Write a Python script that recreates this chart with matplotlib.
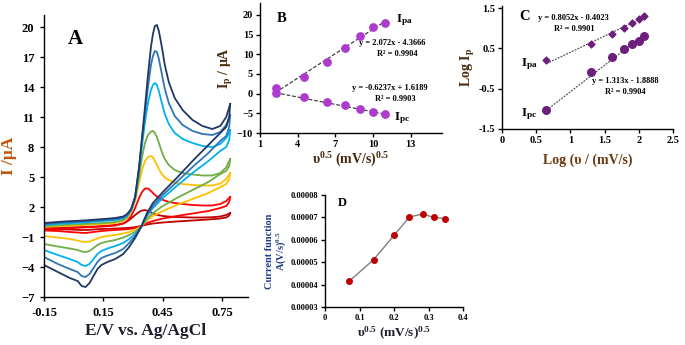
import numpy as np
import matplotlib
matplotlib.use("Agg")
import matplotlib.pyplot as plt

plt.rcParams['font.family'] = ['Liberation Serif', 'DejaVu Serif']
plt.rcParams['font.weight'] = 'bold'
plt.rcParams['mathtext.fontset'] = 'stix'
plt.rcParams['mathtext.default'] = 'regular'

# ---------- dane panel A (CV) ----------
E_fwd = [-0.15, -0.05, 0.05, 0.15, 0.21, 0.25, 0.27, 0.29, 0.31, 0.33, 0.345, 0.36, 0.375,
         0.39, 0.40, 0.41, 0.42, 0.43, 0.445, 0.46, 0.48, 0.51, 0.55, 0.60, 0.65, 0.70,
         0.74, 0.77, 0.79]
E_rev = [0.79, 0.785, 0.77, 0.74, 0.68, 0.60, 0.52, 0.45, 0.40, 0.37, 0.34, 0.31, 0.28,
         0.25, 0.21, 0.17, 0.14, 0.12, 0.10, 0.08, 0.06, 0.04, 0.02, -0.02, -0.08, -0.15]

I_fwd_navy = [0.4, 0.55, 0.65, 0.8, 0.9, 1.05, 1.3, 1.8, 3.0, 6.0, 9.0, 12.0, 15.2,
              18.0, 19.3, 20.1, 20.2, 19.6, 18.0, 16.2, 14.5, 12.9, 11.7, 10.7, 10.1, 9.8,
              10.1, 11.0, 12.3]
I_fwd_blue = [0.3, 0.45, 0.55, 0.7, 0.8, 0.95, 1.2, 1.8, 3.0, 5.9, 8.7, 11.4, 14.0,
              16.2, 17.1, 17.6, 17.5, 16.8, 15.3, 13.8, 12.4, 11.1, 10.2, 9.6, 9.3, 9.2,
              9.5, 10.2, 11.2]
I_fwd_lblue = [0.2, 0.35, 0.45, 0.6, 0.7, 0.85, 1.1, 1.7, 2.9, 5.6, 8.2, 10.5, 12.4,
               13.7, 14.2, 14.4, 14.2, 13.6, 12.4, 11.3, 10.3, 9.4, 8.8, 8.4, 8.1, 8.0,
               8.3, 8.9, 9.7]
I_fwd_green = [0.1, 0.2, 0.3, 0.4, 0.5, 0.7, 1.0, 1.6, 2.8, 5.0, 7.0, 8.4, 9.2,
               9.55, 9.6, 9.4, 9.0, 8.4, 7.5, 6.8, 6.2, 5.7, 5.4, 5.25, 5.15, 5.15,
               5.4, 5.95, 6.8]
I_fwd_yellow = [0.0, 0.1, 0.2, 0.3, 0.4, 0.6, 0.9, 1.5, 2.6, 4.4, 5.7, 6.6, 7.0,
                7.1, 6.95, 6.6, 6.2, 5.8, 5.3, 4.95, 4.7, 4.45, 4.3, 4.2, 4.15, 4.15,
                4.35, 4.8, 5.4]
I_fwd_red = [-0.2, -0.15, -0.05, 0.05, 0.15, 0.35, 0.6, 1.1, 1.9, 2.9, 3.5, 3.85, 3.85,
             3.6, 3.4, 3.2, 3.05, 2.9, 2.75, 2.65, 2.5, 2.4, 2.3, 2.2, 2.15, 2.15,
             2.3, 2.6, 3.0]
I_fwd_dred = [-0.1, -0.05, 0.0, 0.1, 0.2, 0.35, 0.55, 0.85, 1.2, 1.5, 1.65, 1.7, 1.6,
              1.45, 1.35, 1.28, 1.22, 1.18, 1.12, 1.08, 1.05, 1.0, 0.98, 0.95, 0.95, 0.98,
              1.05, 1.2, 1.4]

I_rev_navy = [12.3, 11.0, 10.0, 9.4, 8.2, 6.6, 4.9, 3.5, 2.4, 1.4, 0.0, -1.1, -2.0,
              -2.7, -3.2, -3.5, -3.8, -4.2, -4.9, -5.6, -6.0, -5.9, -5.4, -5.1, -4.5, -3.8]
I_rev_blue = [11.2, 10.0, 9.1, 8.6, 7.4, 6.0, 4.5, 3.2, 2.1, 1.2, 0.0, -0.9, -1.6,
              -2.2, -2.6, -2.85, -3.1, -3.5, -4.1, -4.7, -5.0, -4.9, -4.5, -4.2, -3.7, -3.0]
I_rev_lblue = [9.7, 8.7, 8.0, 7.6, 6.6, 5.4, 4.1, 2.9, 1.9, 1.1, 0.0, -0.7, -1.2,
               -1.6, -1.9, -2.15, -2.4, -2.7, -3.2, -3.7, -3.9, -3.8, -3.5, -3.2, -2.8, -2.3]
I_rev_green = [6.8, 6.1, 5.6, 5.3, 4.5, 3.7, 2.9, 2.1, 1.4, 0.8, 0.0, -0.5, -0.8,
               -1.05, -1.3, -1.45, -1.6, -1.8, -2.1, -2.4, -2.5, -2.45, -2.3, -2.15, -1.95, -1.7]
I_rev_yellow = [5.4, 4.8, 4.3, 4.0, 3.4, 2.8, 2.2, 1.6, 1.1, 0.65, 0.05, -0.3, -0.5,
                -0.65, -0.8, -0.9, -1.0, -1.15, -1.3, -1.45, -1.5, -1.45, -1.35, -1.2, -1.05, -0.9]
I_rev_red = [3.0, 2.5, 2.1, 1.9, 1.6, 1.35, 1.1, 0.85, 0.6, 0.4, 0.1, -0.1, -0.2,
             -0.25, -0.3, -0.35, -0.4, -0.45, -0.5, -0.55, -0.6, -0.58, -0.55, -0.5, -0.4, -0.35]
I_rev_dred = [1.4, 1.15, 0.95, 0.85, 0.75, 0.65, 0.55, 0.45, 0.35, 0.25, 0.1, -0.02, -0.08,
              -0.12, -0.15, -0.18, -0.2, -0.22, -0.25, -0.28, -0.3, -0.3, -0.28, -0.25, -0.22, -0.2]

cv_colors = ['#c00000', '#ff0000', '#ffc000', '#70ad47', '#00b0f0', '#2e75b6', '#1f3864']
cv_fwd = [I_fwd_dred, I_fwd_red, I_fwd_yellow, I_fwd_green, I_fwd_lblue, I_fwd_blue, I_fwd_navy]
cv_rev = [I_rev_dred, I_rev_red, I_rev_yellow, I_rev_green, I_rev_lblue, I_rev_blue, I_rev_navy]

# ---------- dane panel B ----------
sqrt_v = [2.236, 4.472, 6.325, 7.746, 8.944, 10.0, 10.954]
Ipa_B = [1.3, 4.3, 8.1, 11.7, 14.5, 17.0, 18.0]
Ipc_B = [0.05, -0.8, -2.1, -2.9, -3.8, -4.6, -5.2]
fit_pa_B = [2.072, -4.3666]
fit_pc_B = [-0.6237, 1.6189]

# ---------- dane panel C ----------
log_v = [0.65, 1.301, 1.602, 1.778, 1.903, 2.0, 2.079]
logIpa = [0.21, 0.62, 0.86, 1.0, 1.14, 1.24, 1.31]
logIpc = [-1.04, -0.08, 0.29, 0.475, 0.61, 0.69, 0.81]
fit_pa_C = [0.8052, -0.4023]
fit_pc_C = [1.313, -1.8888]

# ---------- dane panel D ----------
sqrt_v_D = [0.0707, 0.1414, 0.2, 0.2449, 0.2828, 0.3162, 0.3464]
cur_func = [4.16e-5, 5.12e-5, 6.2e-5, 7.02e-5, 7.15e-5, 7.0e-5, 6.95e-5]

W, H = 685, 345
fig = plt.figure(figsize=(W / 100, H / 100), dpi=100)


def px_axes(x0, y0, x1, y1):
    """osie w pikselach (lewy, gorny, prawy, dolny)"""
    return fig.add_axes([x0 / W, 1 - y1 / H, (x1 - x0) / W, (y1 - y0) / H])


def style(ax, size):
    for s in ['top', 'right']:
        ax.spines[s].set_visible(False)
    for s in ['left', 'bottom']:
        ax.spines[s].set_linewidth(1.0)
    ax.tick_params(direction='out', length=3, width=1.0, labelsize=size, pad=2)
    for lab in ax.get_xticklabels() + ax.get_yticklabels():
        lab.set_fontweight('bold')


# ---- Panel A ----
axA = px_axes(44, 15, 248, 297)
for c, f, r in zip(cv_colors, cv_fwd, cv_rev):
    axA.plot(E_fwd, f, color=c, lw=1.3, solid_joinstyle='round')
    axA.plot(E_rev, r, color=c, lw=1.3, solid_joinstyle='round')
axA.set_xlim(-0.15, 0.88)
axA.set_ylim(-7, 21.2)
axA.set_xticks([-0.15, 0.15, 0.45, 0.75])
axA.set_xticklabels(['-0.15', '0.15', '0.45', '0.75'])
axA.set_yticks(range(-7, 21, 3))
style(axA, 9)
axA.tick_params(pad=4)
axA.set_xlabel('E/V vs. Ag/AgCl', fontsize=12.5, fontweight='bold', color='#1c1c2c', labelpad=3)
axA.set_ylabel('I /μA', fontsize=12.5, fontweight='bold', color='#c0560f')
axA.yaxis.set_label_coords(-0.13, 0.5)
axA.text(0.115, 0.95, 'A', transform=axA.transAxes, fontsize=15, fontweight='bold', va='top')

# ---- Panel B ----
axB = px_axes(260, 3, 442, 133)
xb = np.array([sqrt_v[0], sqrt_v[-1]])
axB.plot(xb, np.polyval(fit_pa_B, xb), ls=(0, (3, 1.5)), color='#404040', lw=0.9)
axB.plot(xb, np.polyval(fit_pc_B, xb), ls=(0, (3, 1.5)), color='#404040', lw=0.9)
axB.scatter(sqrt_v, Ipa_B, s=28, color='#ad3ccc', zorder=3)
axB.scatter(sqrt_v, Ipc_B, s=28, color='#ad3ccc', zorder=3)
axB.set_xlim(1, 15.5)
axB.set_ylim(-10, 23)
axB.set_xticks([1, 4, 7, 10, 13])
axB.set_yticks(range(-10, 21, 5))
style(axB, 7.5)
axB.set_xlabel(r'υ$^{0.5}$ (mV/s)$^{0.5}$', fontsize=10, fontweight='bold', color='#4a2a0c', labelpad=1)
axB.set_ylabel(r'I$_p$ / μA', fontsize=10, fontweight='bold', color='#4a2a0c', labelpad=1)
axB.text(0.09, 0.93, 'B', transform=axB.transAxes, fontsize=10.5, fontweight='bold', va='top')
axB.text(11.8, 18.6, r'I$_{pa}$', fontsize=9.5, fontweight='bold', va='center')
axB.text(11.55, 12.3, 'y = 2.072x - 4.3666', fontsize=6, fontweight='bold', ha='center')
axB.text(11.9, 9.6, 'R² = 0.9904', fontsize=6, fontweight='bold', ha='center')
axB.text(11.3, 0.9, 'y = -0.6237x + 1.6189', fontsize=6, fontweight='bold', ha='center')
axB.text(11.75, -1.9, 'R² = 0.9903', fontsize=6, fontweight='bold', ha='center')
axB.text(11.7, -6.2, r'I$_{pc}$', fontsize=9.5, fontweight='bold', va='center')

# ---- Panel C ----
axC = px_axes(502, 6, 673, 129)
xc = np.array([log_v[0], log_v[-1]])
axC.plot(xc, np.polyval(fit_pa_C, xc), ls=(0, (1.5, 1)), color='#555555', lw=0.9)
axC.plot(xc, np.polyval(fit_pc_C, xc), ls=(0, (1.5, 1)), color='#555555', lw=0.9)
axC.scatter(log_v, logIpa, s=12, color='#6c1f7c', marker='D', zorder=3)
axC.scatter(log_v, logIpc, s=30, color='#6c1f7c', zorder=3)
axC.set_xlim(0, 2.5)
axC.set_ylim(-1.5, 1.55)
axC.set_xticks([0, 0.5, 1, 1.5, 2, 2.5])
axC.set_xticklabels(['0', '0.5', '1', '1.5', '2', '2.5'])
axC.set_yticks([-1.5, -0.5, 0.5, 1.5])
axC.set_yticklabels(['-1.5', '-0.5', '0.5', '1.5'])
style(axC, 7.5)
axC.set_xlabel('Log (υ / (mV/s)', fontsize=10, fontweight='bold', color='#6b3810', labelpad=6)
axC.set_ylabel(r'Log I$_p$', fontsize=10, fontweight='bold', color='#4a2a0c', labelpad=1)
axC.text(0.1, 0.97, 'C', transform=axC.transAxes, fontsize=10.5, fontweight='bold', va='top')
axC.text(1.05, 1.2, 'y = 0.8052x - 0.4023', fontsize=6, fontweight='bold', ha='center')
axC.text(1.05, 0.92, 'R² = 0.9901', fontsize=6, fontweight='bold', ha='center')
axC.text(0.28, 0.1, r'I$_{pa}$', fontsize=9.5, fontweight='bold', va='center')
axC.text(1.8, -0.35, 'y = 1.313x - 1.8888', fontsize=6, fontweight='bold', ha='center')
axC.text(1.8, -0.63, 'R² = 0.9904', fontsize=6, fontweight='bold', ha='center')
axC.text(0.28, -1.12, r'I$_{pc}$', fontsize=9.5, fontweight='bold', va='center')

# ---- Panel D ----
axD = px_axes(325, 195, 463, 307)
axD.plot(sqrt_v_D, cur_func, color='#7f7f7f', lw=1.0)
axD.scatter(sqrt_v_D, cur_func, s=16, color='#c00000', zorder=3)
axD.set_xlim(0, 0.4)
axD.set_ylim(3e-5, 8e-5)
axD.set_xticks([0, 0.1, 0.2, 0.3, 0.4])
axD.set_xticklabels(['0', '0.1', '0.2', '0.3', '0.4'])
axD.set_yticks([3e-5, 4e-5, 5e-5, 6e-5, 7e-5, 8e-5])
axD.set_yticklabels(['0.00003', '0.00004', '0.00005', '0.00006', '0.00007', '0.00008'])
style(axD, 6)
axD.set_xlabel(r'υ$^{0.5}$ (mV/s)$^{0.5}$', fontsize=9.5, fontweight='bold', color='#1c1c2c', labelpad=2)
axD.set_ylabel('Current function\n' + r'A(V/s)$^{0.5}$', fontsize=7.5, fontweight='bold',
               color='#1f3c88', labelpad=2, linespacing=1.0)
axD.text(0.09, 0.98, 'D', transform=axD.transAxes, fontsize=9, fontweight='bold', va='top')

fig.savefig('out.png', dpi=100)
